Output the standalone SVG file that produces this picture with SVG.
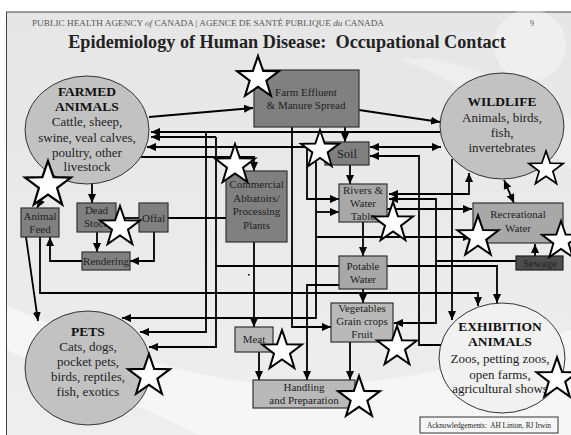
<svg xmlns="http://www.w3.org/2000/svg" width="571" height="435" viewBox="0 0 571 435">
  <defs>
    <linearGradient id="bg" x1="0" y1="0" x2="0" y2="1">
      <stop offset="0" stop-color="#e6e6e6"/>
      <stop offset="1" stop-color="#eeeeee"/>
    </linearGradient>
    <marker id="ah" viewBox="0 0 10 9" refX="10" refY="4.5" markerWidth="9" markerHeight="8.1" markerUnits="userSpaceOnUse" orient="auto-start-reverse">
      <path d="M0,0 L10,4.5 L0,9 z" fill="#000"/>
    </marker>
    <polygon id="star" points="0,-20 4.7,-6.47 19.02,-6.18 7.61,2.47 11.76,16.18 0,8 -11.76,16.18 -7.61,2.47 -19.02,-6.18 -4.7,-6.47"/>
    <style>
      .t { font-family: "Liberation Serif", "Times New Roman", serif; fill: #222; text-anchor: middle; }
      .bt { font-size: 11px; }
      .et { font-size: 13px; }
      .eh { font-size: 13.5px; font-weight: bold; fill: #111; }
      .dark { fill: #808080; stroke: #333; stroke-width: 1.2; }
      .mid { fill: #a8a8a8; stroke: #333; stroke-width: 1.2; }
      .light { fill: #b9b9b9; stroke: #333; stroke-width: 1.2; }
      .ell { fill: #c2c2c2; stroke: #333; stroke-width: 1; }
      .conn path { fill: none; stroke: #000; stroke-width: 1.8; }
      .st { fill: #fff; stroke: #000; stroke-width: 1.9; stroke-linejoin: miter; }
    </style>
  </defs>

  <!-- slide background -->
  <rect x="0" y="0" width="571" height="435" fill="#fff"/>
  <rect x="6.5" y="12" width="570" height="430" fill="url(#bg)" stroke="#444" stroke-width="1"/>
  <path d="M7,305 C60,330 130,360 220,378 C320,395 450,380 571,330 L571,435 L200,435 C140,405 80,385 7,350 Z" fill="#fff" opacity="0.5"/>
  <circle cx="530" cy="45" r="36" fill="#fff" opacity="0.35"/>
  <path d="M400,60 C460,80 520,120 571,170 L571,120 C530,90 470,65 430,58 Z" fill="#fff" opacity="0.3"/>

  <!-- header -->
  <text x="32" y="26" font-family="Liberation Serif, serif" font-size="8" fill="#555" textLength="352" lengthAdjust="spacingAndGlyphs">PUBLIC HEALTH AGENCY <tspan font-style="italic">of</tspan> CANADA | AGENCE DE SANTÉ PUBLIQUE <tspan font-style="italic">du</tspan> CANADA</text>
  <text x="530" y="26" font-family="Liberation Serif, serif" font-size="8" fill="#555">9</text>
  <text x="287" y="48" class="t" font-size="18.2" font-weight="bold" fill="#111" xml:space="preserve">Epidemiology of Human Disease:  Occupational Contact</text>

  <!-- connectors -->
  <g id="connectors" class="conn">
    <path d="M149,117 L253,108" marker-end="url(#ah)"/>
    <path d="M359,110 L440,122" marker-end="url(#ah)"/>
    <path d="M345,127 V142" marker-end="url(#ah)"/>
    <path d="M370,147 H441" marker-start="url(#ah)" marker-end="url(#ah)"/>
    <path d="M441,345 H419 V156 H370" marker-end="url(#ah)"/>
    <path d="M452,159 V320" marker-end="url(#ah)"/>
    <path d="M389,194 H469 V173" marker-start="url(#ah)" marker-end="url(#ah)"/>
    <path d="M516,261 H436 V199 H389" marker-end="url(#ah)"/>
    <path d="M436,261 V323 H394" marker-end="url(#ah)"/>
    <path d="M535,256 V244" marker-end="url(#ah)"/>
    <path d="M387,209 H472" marker-end="url(#ah)"/>
    <path d="M316,237 H472" marker-end="url(#ah)"/>
    <path d="M504,180 L514,203" marker-start="url(#ah)" marker-end="url(#ah)"/>
    <path d="M387,266 H497 V303" marker-end="url(#ah)"/>
    <path d="M339,266 H216"/>
    <path d="M40,237 V293 H478 V306" marker-end="url(#ah)"/>
    <path d="M216,137 H151" marker-end="url(#ah)"/>
    <path d="M216,137 V347 H149" marker-end="url(#ah)"/>
    <path d="M206,132 V332 H140" marker-end="url(#ah)"/>
    <path d="M440,132 H151" marker-end="url(#ah)"/>
    <path d="M325,147 H147" marker-end="url(#ah)"/>
    <path d="M141,157 H254 V171" marker-end="url(#ah)"/>
    <path d="M292,127 V327 H331" marker-end="url(#ah)"/>
    <path d="M307,147 V199 H339" marker-end="url(#ah)"/>
    <path d="M316,147 V318 H122" marker-end="url(#ah)"/>
    <path d="M316,212 H339" marker-end="url(#ah)"/>
    <path d="M339,285 H307 V380" marker-end="url(#ah)"/>
    <path d="M254,242 V327" marker-end="url(#ah)"/>
    <path d="M259,352 V380" marker-end="url(#ah)"/>
    <path d="M350,342 V380" marker-end="url(#ah)"/>
    <path d="M363,289 V303" marker-end="url(#ah)"/>
    <path d="M363,222 V256" marker-end="url(#ah)"/>
    <path d="M350,165 V184" marker-end="url(#ah)"/>
    <path d="M168,218 H226"/>
    <path d="M116,218 H139"/>
    <path d="M92,184 V203" marker-end="url(#ah)"/>
    <path d="M97,232 V252" marker-end="url(#ah)"/>
    <path d="M154,232 V261 H130" marker-end="url(#ah)"/>
    <path d="M82,261 H50 V237" marker-end="url(#ah)"/>
    <path d="M26,237 L38,321" marker-end="url(#ah)"/>
    <path d="M54,177 L37,208" marker-end="url(#ah)"/>
  </g>
  <rect x="248" y="274" width="1.5" height="1.5" fill="#000"/>

  <!-- nodes -->
  <g id="farmed-animals">
    <ellipse class="ell" cx="87" cy="130" rx="62" ry="54"/>
    <text class="t eh" x="87" y="96">FARMED</text>
    <text class="t eh" x="87" y="111">ANIMALS</text>
    <text class="t et" x="87" y="126">Cattle, sheep,</text>
    <text class="t et" x="87" y="141.5">swine, veal calves,</text>
    <text class="t et" x="87" y="156.5">poultry, other</text>
    <text class="t et" x="87" y="171">livestock</text>
  </g>
  <g id="wildlife">
    <ellipse class="ell" cx="502" cy="126" rx="62" ry="53" fill="#c6c6c6"/>
    <text class="t eh" x="502" y="106">WILDLIFE</text>
    <text class="t et" x="502" y="122">Animals, birds,</text>
    <text class="t et" x="502" y="137">fish,</text>
    <text class="t et" x="502" y="152">invertebrates</text>
  </g>
  <g id="pets">
    <ellipse class="ell" cx="88" cy="368" rx="63" ry="57"/>
    <text class="t eh" x="88" y="336">PETS</text>
    <text class="t et" x="88" y="351">Cats, dogs,</text>
    <text class="t et" x="88" y="366">pocket pets,</text>
    <text class="t et" x="88" y="381">birds, reptiles,</text>
    <text class="t et" x="88" y="396">fish, exotics</text>
  </g>
  <g id="exhibition-animals">
    <ellipse cx="502" cy="358" rx="63" ry="55" fill="#f1f1f1" stroke="#333" stroke-width="1"/>
    <text class="t eh" x="500" y="331" font-size="14">EXHIBITION</text>
    <text class="t eh" x="500" y="346" font-size="14">ANIMALS</text>
    <text class="t et" x="500" y="363">Zoos, petting zoos,</text>
    <text class="t et" x="500" y="379">open farms,</text>
    <text class="t et" x="500" y="393">agricultural shows</text>
  </g>
  <g id="farm-effluent">
    <rect class="dark" x="254" y="70" width="105" height="57"/>
    <text class="t bt" x="306" y="96">Farm Effluent</text>
    <text class="t bt" x="306" y="109">&amp; Manure Spread</text>
  </g>
  <g id="soil">
    <rect class="dark" x="325" y="142" width="44" height="23" fill="#858585"/>
    <text class="t" x="347" y="158" font-size="12.5">Soil</text>
  </g>
  <g id="rivers">
    <rect class="mid" x="339" y="184" width="48" height="38"/>
    <text class="t bt" x="363" y="194">Rivers &amp;</text>
    <text class="t bt" x="363" y="207">Water</text>
    <text class="t bt" x="363" y="220">Table</text>
  </g>
  <g id="potable-water">
    <rect class="mid" x="339" y="256" width="48" height="33"/>
    <text class="t bt" x="363" y="270">Potable</text>
    <text class="t bt" x="363" y="283">Water</text>
  </g>
  <g id="vegetables">
    <rect class="light" x="331" y="303" width="62" height="39"/>
    <text class="t bt" x="362" y="312">Vegetables</text>
    <text class="t bt" x="362" y="325">Grain crops</text>
    <text class="t bt" x="362" y="338">Fruit</text>
  </g>
  <g id="meat">
    <rect class="light" x="235" y="327" width="38" height="25"/>
    <text class="t bt" x="254" y="343">Meat</text>
  </g>
  <g id="handling">
    <rect class="light" x="253" y="380" width="102" height="28"/>
    <text class="t bt" x="304" y="391">Handling</text>
    <text class="t bt" x="304" y="404">and Preparation</text>
  </g>
  <g id="abbatoirs">
    <rect class="dark" x="226" y="171" width="61" height="71"/>
    <text class="t bt" x="256.5" y="188">Commercial</text>
    <text class="t bt" x="256.5" y="202">Abbatoirs/</text>
    <text class="t bt" x="256.5" y="215">Processing</text>
    <text class="t bt" x="256.5" y="229">Plants</text>
  </g>
  <g id="animal-feed">
    <rect class="dark" x="21" y="208" width="38" height="29"/>
    <text class="t bt" x="40" y="220">Animal</text>
    <text class="t bt" x="40" y="233">Feed</text>
  </g>
  <g id="dead-stock">
    <rect class="dark" x="77" y="203" width="39" height="29"/>
    <text class="t bt" x="96.5" y="214">Dead</text>
    <text class="t bt" x="96.5" y="227">Stock</text>
  </g>
  <g id="offal">
    <rect class="dark" x="139" y="203" width="29" height="29"/>
    <text class="t bt" x="153.5" y="222">Offal</text>
  </g>
  <g id="rendering">
    <rect class="dark" x="82" y="252" width="48" height="18"/>
    <text class="t bt" x="106" y="264.5">Rendering</text>
  </g>
  <g id="recreational-water">
    <rect class="mid" x="473" y="203" width="90" height="40" fill="#a3a3a3"/>
    <text class="t bt" x="518" y="218">Recreational</text>
    <text class="t bt" x="518" y="232">Water</text>
  </g>
  <g id="sewage">
    <rect x="516" y="256" width="47" height="14" fill="#4d4d4d" stroke="#222" stroke-width="1.2"/>
    <text class="t bt" x="540" y="266.5" fill="#1a1a1a">Sewage</text>
  </g>
  <g id="acknowledgements">
    <rect x="420" y="417" width="138" height="16" fill="#f6f6f6" stroke="#333" stroke-width="1"/>
    <text class="t" x="489" y="428" font-size="7.3" xml:space="preserve">Acknowledgements:  AH Linton, RJ Irwin</text>
  </g>

  <!-- hazard stars -->
  <g id="stars">
    <use href="#star" class="st" transform="translate(258,78) scale(1.1)"/>
    <use href="#star" class="st" transform="translate(48,185) scale(1.2)"/>
    <use href="#star" class="st" transform="translate(320,150) scale(1)"/>
    <use href="#star" class="st" transform="translate(235,165) scale(1.05)"/>
    <use href="#star" class="st" transform="translate(120,227) scale(1.05)"/>
    <use href="#star" class="st" transform="translate(546,169) scale(0.9)"/>
    <use href="#star" class="st" transform="translate(393,223) scale(1.05)"/>
    <use href="#star" class="st" transform="translate(478,237) scale(1.08)"/>
    <use href="#star" class="st" transform="translate(561,241) scale(1)"/>
    <use href="#star" class="st" transform="translate(149,376) scale(1.1)"/>
    <use href="#star" class="st" transform="translate(282,351) scale(1.05)"/>
    <use href="#star" class="st" transform="translate(359,398) scale(1.1)"/>
    <use href="#star" class="st" transform="translate(397,347) scale(1.05)"/>
    <use href="#star" class="st" transform="translate(557,379) scale(1.08)"/>
  </g>
</svg>
